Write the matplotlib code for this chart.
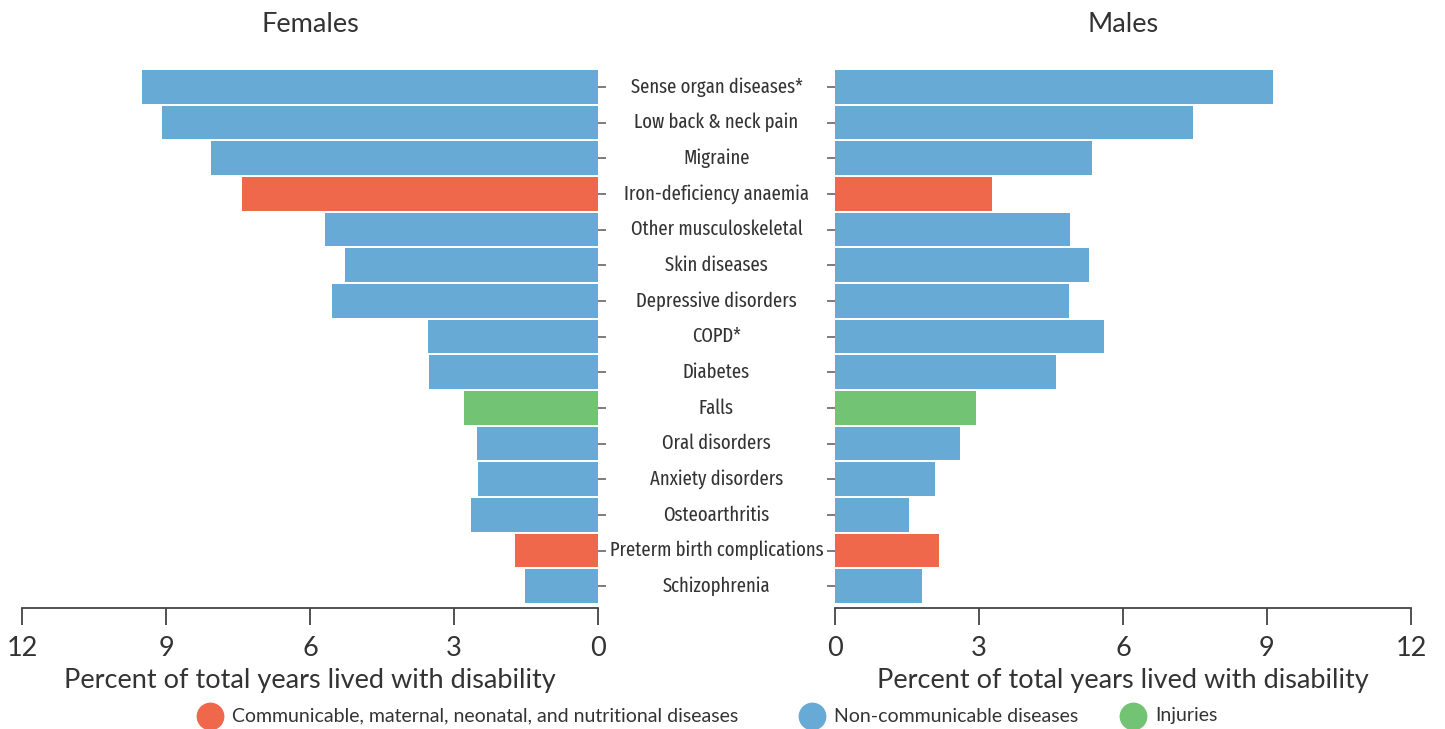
import matplotlib
matplotlib.use("Agg")
import matplotlib.pyplot as plt
from matplotlib.transforms import blended_transform_factory
from matplotlib.lines import Line2D

categories = ["Sense organ diseases*", "Low back & neck pain", "Migraine",
              "Iron-deficiency anaemia", "Other musculoskeletal", "Skin diseases",
              "Depressive disorders", "COPD*", "Diabetes", "Falls", "Oral disorders",
              "Anxiety disorders", "Osteoarthritis", "Preterm birth complications",
              "Schizophrenia"]
groups = ["NCD", "NCD", "NCD", "CMNN", "NCD", "NCD", "NCD", "NCD", "NCD", "INJ",
          "NCD", "NCD", "NCD", "CMNN", "NCD"]
females = [9.5, 9.08, 8.06, 7.42, 5.69, 5.27, 5.54, 3.54, 3.52, 2.79, 2.52, 2.50,
           2.65, 1.73, 1.52]
males = [9.13, 7.46, 5.35, 3.27, 4.90, 5.29, 4.88, 5.60, 4.60, 2.94, 2.60, 2.08,
         1.54, 2.17, 1.81]
xticks = [0, 3, 6, 9, 12]
legend_keys = ["CMNN", "NCD", "INJ"]
legend_labels = ["Communicable, maternal, neonatal, and nutritional diseases",
                 "Non-communicable diseases", "Injuries"]
colors = {"CMNN": "#ef684c", "NCD": "#67aad6", "INJ": "#73c375"}

main_font = "Lato"
cond_font = ["Fira Sans Extra Condensed", "DejaVu Sans"]
txt = "#333333"

fig = plt.figure(figsize=(14.45, 7.29), dpi=100)
W, H = 1445, 729
bottom = 1 - 608 / H
top = 1 - 69 / H
axL = fig.add_axes([22 / W, bottom, 576 / W, top - bottom])
axR = fig.add_axes([835 / W, bottom, 576 / W, top - bottom])

ypos = list(range(len(categories)))
barcol = [colors[g] for g in groups]
axL.barh(ypos, females, height=0.94, color=barcol)
axR.barh(ypos, males, height=0.94, color=barcol)

for ax, title in ((axL, "Females"), (axR, "Males")):
    ax.set_xlim(0, 12)
    ax.set_ylim(len(categories) - 1 + 0.61, -0.5)
    ax.set_xticks(xticks)
    ax.set_xticklabels([str(t) for t in xticks], fontfamily=main_font, fontsize=19.5, color=txt)
    ax.tick_params(axis="x", length=12, width=1.3, color="#444444", pad=8)
    ax.set_yticks(ypos)
    ax.set_yticklabels([])
    ax.tick_params(axis="y", length=6, width=1.2, color="#666666")
    for s in ("top", "left", "right"):
        ax.spines[s].set_visible(False)
    ax.spines["bottom"].set_color("#444444")
    ax.spines["bottom"].set_linewidth(1.3)
    ax.set_xlabel("Percent of total years lived with disability", fontfamily=main_font,
                  fontsize=19.5, color=txt, labelpad=5)
    ax.set_title(title, fontfamily=main_font, fontsize=19.5, color=txt, pad=27)

axL.invert_xaxis()
axL.yaxis.tick_right()
axR.yaxis.tick_left()

trans = blended_transform_factory(fig.transFigure, axL.transData)
for y, c in zip(ypos, categories):
    axL.text(716.5 / W, y, c, transform=trans, ha="center", va="center",
             fontfamily=cond_font, fontsize=14.6, color=txt)

# legend: circle markers + labels, placed in figure pixels
leg_marker_x = [210, 812, 1133]
leg_y = 1 - 716 / H
for key, lab, mx in zip(legend_keys, legend_labels, leg_marker_x):
    fig.add_artist(Line2D([mx / W], [leg_y], transform=fig.transFigure, marker="o",
                          linestyle="none", markersize=20, markerfacecolor=colors[key],
                          markeredgecolor="none"))
    fig.text((mx + 22) / W, leg_y, lab, ha="left", va="center", fontfamily=main_font,
             fontsize=14, color=txt)

fig.savefig("out.png", dpi=100)
